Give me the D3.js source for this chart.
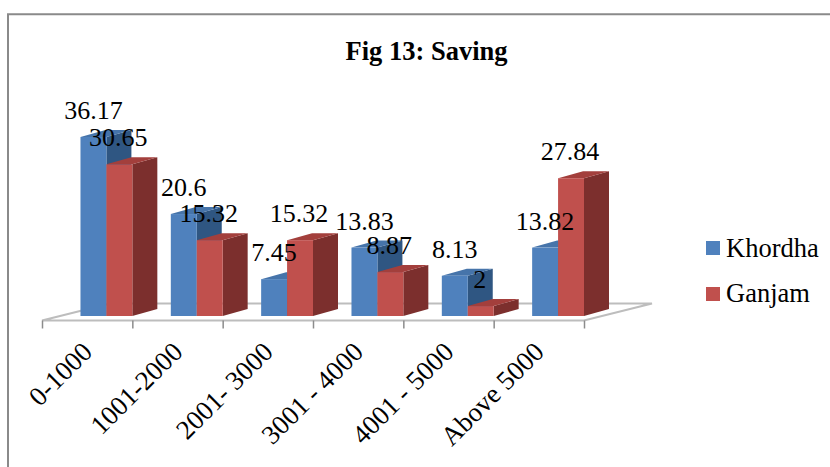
<!DOCTYPE html>
<html><head><meta charset="utf-8">
<script src="https://cdn.jsdelivr.net/npm/d3@7"></script>
<style>html,body{margin:0;padding:0;background:#fff}svg{display:block}text{font-family:"Liberation Serif",serif;fill:#000}</style>
</head><body><div id="c"></div>
<script>
const categories=["0-1000","1001-2000","2001- 3000","3001 - 4000","4001 - 5000","Above 5000"];
const seriesNames=["Khordha","Ganjam"];
const khordha=[36.17,20.6,7.45,13.83,8.13,13.82];
const ganjam=[30.65,15.32,15.32,8.87,2,27.84];
const colors={Khordha:{front:"#4f81bd",top:"#4674aa",side:"#2f5682"},Ganjam:{front:"#c0504d",top:"#a33f3c",side:"#7c2f2d"}};
const W=830,H=467,dx=25,dy=7;
const svg=d3.select("#c").append("svg").attr("width",W).attr("height",H);
svg.append("path").attr("d","M8,467V14.3H830").attr("fill","none").attr("stroke","#8a8a8a").attr("stroke-width",2);
svg.append("text").attr("x",426.5).attr("y",60).attr("text-anchor","middle").attr("font-weight","bold").attr("font-size",26.5).text("Fig 13: Saving");
const x=d3.scaleBand().domain(categories).range([42,584]).paddingInner(.426).paddingOuter(.213).align(1);
const xs=d3.scaleBand().domain(seriesNames).range([0,x.bandwidth()]).paddingInner(0).align(0);
const y=d3.scaleLinear().domain([0,36.17]).range([316,137]);
const floor=svg.append("g").attr("fill","none").attr("stroke","#bdbdbd").attr("stroke-width",2);
floor.append("path").attr("d",`M42,320.5H584L652,303.5H110L42,320.5`).attr("fill","#fff");
const axis=d3.axisBottom(d3.scalePoint().domain(d3.range(7)).range([42,584])).tickSize(8).tickFormat("");
const ag=svg.append("g").attr("transform","translate(0,320.5)").call(axis);
ag.select(".domain").remove();
ag.selectAll("line").attr("stroke","#8c8c8c").attr("stroke-width",1.5);
const data=categories.map((c,i)=>({c,vals:[{s:"Khordha",v:khordha[i]},{s:"Ganjam",v:ganjam[i]}]}));
const g=svg.append("g");
data.forEach(d=>{
  d.vals.forEach(b=>{
    const x0=x(d.c)+xs(b.s),w=xs.bandwidth(),t=y(b.v),bot=y(0),col=colors[b.s];
    g.append("path").attr("fill",col.side).attr("d",`M${x0+w},${t}l${dx},${-dy}V${bot-dy}l${-dx},${dy}Z`);
    g.append("path").attr("fill",col.top).attr("d",`M${x0},${t}l${dx},${-dy}h${w}l${-dx},${dy}Z`);
    g.append("rect").attr("x",x0).attr("y",t).attr("width",w).attr("height",bot-t).attr("fill",col.front);
  });
});
data.forEach(d=>d.vals.forEach(b=>{
  svg.append("text").attr("x",x(d.c)+xs(b.s)+xs.bandwidth()/2-(b.s==="Ganjam"?1:0)).attr("y",y(b.v)-18)
   .attr("text-anchor","middle").attr("font-size",26).text(b.v);
}));
categories.forEach(c=>{
  const tx=x(c),ty=340;
  svg.append("text").attr("transform",`translate(${tx},${ty}) rotate(-45)`).attr("text-anchor","end").attr("dy","0.7em").attr("font-size",27).text(c);
});
seriesNames.forEach((s,i)=>{
  svg.append("rect").attr("x",706).attr("y",241+46*i).attr("width",14).attr("height",14).attr("fill",colors[s].front);
  svg.append("text").attr("x",726).attr("y",257+45*i).attr("font-size",26.5).text(s);
});
</script></body></html>
